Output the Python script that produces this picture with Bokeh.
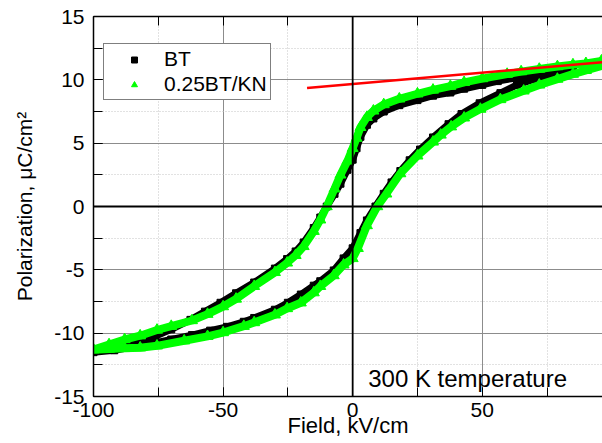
from bokeh.plotting import figure
from bokeh.models import (Range1d, LinearAxis, SingleIntervalTicker, FixedTicker, Span, Label,
                          Legend, LegendItem, ColumnDataSource)
from bokeh.embed import file_html
from bokeh.resources import INLINE

# ---- data ----
bt_field = [85, 80, 72, 63, 56, 50, 43, 37.7, 31, 25, 18, 12, 8, 5.5, 3, 1.5, 0, -2, -4.7, -7,
            -10, -12.5, -15, -18.9, -22, -25.3, -30, -38, -45, -51, -57, -62.6, -70, -78, -85,
            -92, -100,
            -92, -85, -78, -70, -62, -55, -48.5, -42, -38, -30, -25, -20, -15, -12.5, -7.3,
            -3.5, 0, 3, 5.5, 8.8, 12, 15, 18.4, 22, 26, 31, 37, 42, 49, 57, 63.4, 70, 76.3,
            81, 85]
bt_pol = [10.85, 10.7, 10.45, 10.15, 9.9, 9.6, 9.3, 9.0, 8.75, 8.4, 8.0, 7.5, 6.95, 6.45, 5.5,
          4.6, 3.7, 2.9, 1.8, 1.0,
          0.0, -0.87, -1.7, -2.84, -3.55, -4.15, -4.9, -6.0, -6.85, -7.6, -8.3, -8.95, -9.7,
          -10.4, -10.9, -11.25, -11.5,
          -11.35, -11.1, -10.85, -10.5, -10.15, -9.8, -9.5, -9.1, -8.8, -8.15, -7.6, -6.95,
          -6.25, -5.9, -5.05, -4.1, -3.3, -2.1, -1.1, 0.0, 1.0, 1.9, 2.8, 3.65, 4.5, 5.45,
          6.5, 7.3, 8.15, 8.95, 9.6, 10.05, 10.45, 10.65, 10.85]

kn_field = [100, 96, 90, 85, 79, 72, 65, 59.6, 50, 43, 37.7, 31, 25, 18, 12, 8, 5.5, 3, 1.5, 0,
            -2, -4.7, -7, -10, -12.5, -15, -18.9, -22, -25.3, -30, -38, -45, -50, -56, -62,
            -70, -75.5, -82, -88, -94, -100,
            -94, -88, -82, -75.5, -65, -56, -50, -42, -38, -30, -25.3, -20, -15, -12.5, -7.3,
            -3.5, 0, 2, 5.5, 9.5, 13, 18.4, 25, 31, 34, 38, 43, 49.3, 57, 66, 72, 79, 85, 90,
            96, 100]
kn_pol = [11.6, 11.5, 11.3, 11.2, 11.05, 10.85, 10.65, 10.45, 10.1, 9.8, 9.5, 9.2, 8.9, 8.5,
          8.05, 7.55, 7.05, 6.25, 5.4, 4.6,
          3.6, 2.5, 1.4, 0.0, -1.05, -1.95, -3.15, -3.85, -4.45, -5.2, -6.3, -7.3, -7.9, -8.5,
          -9.0, -9.45, -9.75, -10.2, -10.5, -10.9, -11.3,
          -11.25, -11.2, -11.15, -11.0, -10.6, -10.25, -9.95, -9.45, -9.16, -8.55, -8.05,
          -7.6, -6.8, -6.3, -5.45, -4.6, -4.1, -3.3, -1.5, 0.0, 1.0, 2.6, 4.0, 5.1, 5.65,
          6.3, 7.0, 7.69, 8.45, 9.13, 9.6, 10.06, 10.45, 10.75, 11.1, 11.35]

red_field = [-17.6, 100]
red_pol = [9.35, 11.45]

series_names = ["BT", "0.25BT/KN"]
x_tick_values = [-100, -50, 0, 50]
x_tick_labels = ["-100", "-50", "0", "50"]
x_minor_values = [-100, -75, -50, -25, 0, 25, 50, 75]
y_tick_values = [-15, -10, -5, 0, 5, 10, 15]
y_tick_labels = ["-15", "-10", "-5", "0", "5", "10", "15"]
x_title = "Field, kV/cm"
y_title = "Polarization, \u03bcC/cm\u00b2"
annotation = "300 K temperature"

FONT = "Liberation Sans"

p = figure(width=602, height=443, output_backend="svg", toolbar_location=None,
           x_range=Range1d(-100, 96.4), y_range=Range1d(-15, 15),
           min_border_left=93, min_border_right=0, min_border_top=16, min_border_bottom=47,
           x_axis_label=x_title, y_axis_label=y_title)
p.outline_line_color = None
p.background_fill_color = "white"
p.border_fill_color = "white"

xt = SingleIntervalTicker(interval=50, num_minor_ticks=2)
yt = SingleIntervalTicker(interval=5, num_minor_ticks=2)
p.xaxis.ticker = xt
p.yaxis.ticker = yt
p.xgrid.ticker = xt
p.ygrid.ticker = yt
p.xaxis.major_label_overrides = dict(zip(x_tick_values, x_tick_labels))
p.yaxis.major_label_overrides = dict(zip(y_tick_values, y_tick_labels))

for ax in (p.xaxis[0], p.yaxis[0]):
    ax.major_label_text_font = FONT
    ax.major_label_text_font_size = "21px"
    ax.major_label_text_color = "black"
    ax.axis_label_text_font = FONT
    ax.axis_label_text_font_size = "21px"
    ax.axis_label_text_font_style = "normal"
    ax.axis_label_text_color = "black"
    ax.axis_line_color = "black"
    ax.axis_line_width = 1.5
    ax.major_tick_in = 9
    ax.major_tick_out = 0
    ax.minor_tick_in = 9
    ax.minor_tick_out = 0
    ax.major_tick_line_color = "black"
    ax.minor_tick_line_color = "black"
p.xaxis.axis_label_text_font_size = "22px"
p.xaxis.major_label_standoff = 6
p.xaxis.axis_label_standoff = -7
p.yaxis.major_label_standoff = 9
p.yaxis.axis_label_standoff = 15

top = LinearAxis(ticker=FixedTicker(ticks=[], minor_ticks=x_minor_values),
                 axis_line_color="black", axis_line_width=1.5, major_tick_in=9,
                 major_tick_out=0, minor_tick_in=9, minor_tick_out=0,
                 minor_tick_line_color="black", major_label_standoff=0)
p.add_layout(top, "above")

for g in (p.xgrid[0], p.ygrid[0]):
    g.grid_line_color = "#8c8c8c"
    g.grid_line_width = 1
    g.minor_grid_line_color = "#c4c4c4"
    g.minor_grid_line_dash = "1 2"
    g.minor_grid_line_width = 1

p.add_layout(Span(location=0, dimension="width", line_color="black", line_width=1.8))
p.add_layout(Span(location=0, dimension="height", line_color="black", line_width=1.8))

bt_src = ColumnDataSource(dict(x=bt_field, y=bt_pol))
kn_src = ColumnDataSource(dict(x=kn_field, y=kn_pol))

p.line("x", "y", source=bt_src, line_color="black", line_width=7)
r_bt = p.scatter("x", "y", source=bt_src, marker="square", size=7, color="black")
p.line("x", "y", source=kn_src, line_color="#00ff00", line_width=8)
r_kn = p.scatter("x", "y", source=kn_src, marker="triangle", size=11, color="#00ff00")
p.line(red_field, red_pol, line_color="#ff0000", line_width=2.5)

p.add_layout(Label(x=6, y=-13.6, text=annotation, text_font=FONT, text_font_size="24px",
                   text_color="black", text_baseline="alphabetic"))

legend = Legend(items=[LegendItem(label=series_names[0], renderers=[r_bt]),
                       LegendItem(label=series_names[1], renderers=[r_kn])],
                location=(10, 296), label_text_font=FONT, label_text_font_size="21px",
                label_text_color="black", border_line_color="black", border_line_width=1,
                background_fill_alpha=1, padding=3, spacing=1, glyph_width=54,
                glyph_height=15, label_standoff=3, label_height=20, margin=0)
p.add_layout(legend, "center")

open("out.html", "w").write(file_html(p, INLINE))
